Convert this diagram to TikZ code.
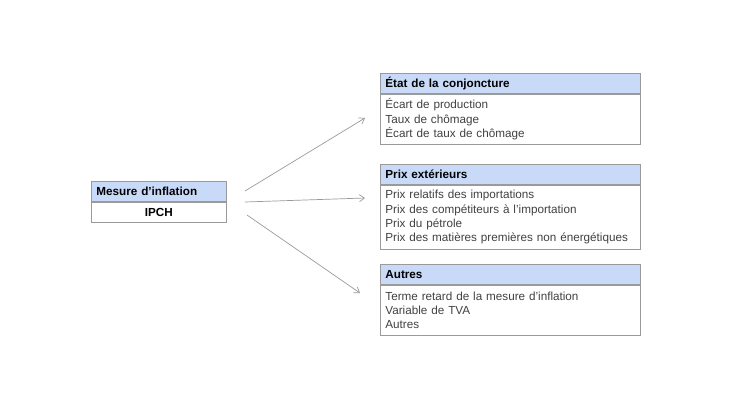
\documentclass[tikz,border=0pt]{standalone}
\usepackage{fontspec}
\setmainfont{Liberation Sans}
\usetikzlibrary{positioning,arrows.meta}
\definecolor{hdrblue}{HTML}{C9DAF8}
\definecolor{boxgray}{HTML}{9A9A9A}
\definecolor{txtgray}{HTML}{404040}
\begin{document}
\begin{tikzpicture}[x=1pt, y=-1pt, font=\fontsize{11.7}{14.2}\selectfont,
  hdr/.style={draw=boxgray, fill=hdrblue, line width=0.8pt, anchor=north west,
    minimum height=20pt, inner xsep=5pt, inner ysep=0pt, align=left,
    text width=250pt, font=\fontsize{11.7}{14.2}\selectfont\bfseries},
  bdy/.style={draw=boxgray, line width=0.8pt, inner xsep=5pt, inner ysep=0pt,
    align=left, text width=250pt, text=txtgray},
  arr/.style={draw=boxgray, line width=0.7pt, -{Straight Barb[length=5pt,width=7pt]}}]
  \useasboundingbox (0,0) rectangle (730,410);
  % boîte de gauche
  \node[hdr, text width=125pt] (mes) at (91,181) {Mesure d'inflation};
  \node[bdy, below=0pt of mes, text width=125pt, minimum height=20pt, align=center,
    font=\fontsize{11.7}{14.2}\selectfont\bfseries, text=black] (ipch) {IPCH};
  % boîtes de droite
  \node[hdr] (etat) at (380,73) {État de la conjoncture};
  \node[bdy, below=0pt of etat, minimum height=50pt] (etatb)
    {Écart de production\\Taux de chômage\\Écart de taux de chômage};
  \node[hdr] (prix) at (380,164) {Prix extérieurs};
  \node[bdy, below=0pt of prix, minimum height=64pt] (prixb)
    {Prix relatifs des importations\\Prix des compétiteurs à l'importation\\Prix du pétrole\\Prix des matières premières non énergétiques};
  \node[hdr] (autr) at (380,264) {Autres};
  \node[bdy, below=0pt of autr, minimum height=50pt] (autrb)
    {Terme retard de la mesure d'inflation\\Variable de TVA\\Autres};
  % départs et arrivées des flèches
  \coordinate (s1) at (245,191);
  \coordinate (s2) at (245,202);
  \coordinate (s3) at (247,215);
  \coordinate (e1) at (365,118);
  \coordinate (e2) at (365,198);
  \coordinate (e3) at (360,293);
  \draw[arr] (s1) -- (e1);
  \draw[arr] (s2) -- (e2);
  \draw[arr] (s3) -- (e3);
\end{tikzpicture}
\end{document}
